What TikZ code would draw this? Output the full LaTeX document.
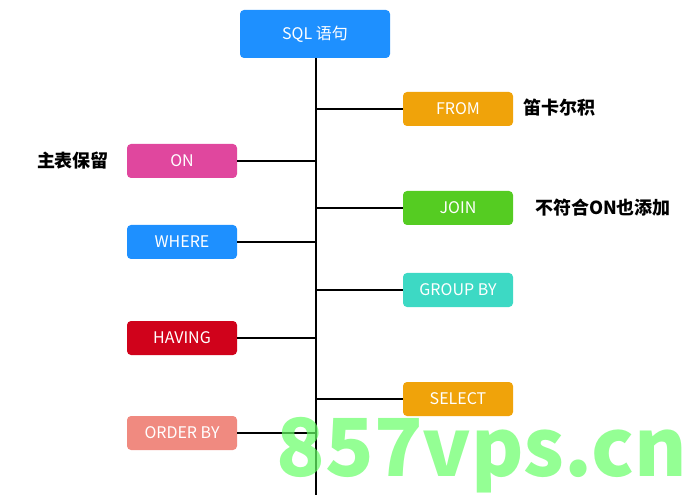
\documentclass[tikz,border=0pt]{standalone}
\usepackage{fontspec}
\setmainfont{Noto Sans CJK SC}
\begin{document}
\begin{tikzpicture}[x=1pt,y=-1pt,
  box/.style={rounded corners=4pt,minimum width=110pt,minimum height=34pt,text=white,font=\fontsize{16}{18}\selectfont,inner sep=0pt},
  lab/.style={font=\bfseries\fontsize{18}{20}\selectfont},
  ln/.style={line width=1.3pt}]
\useasboundingbox (0,0) rectangle (697,500);
\definecolor{cblue}{HTML}{1E90FF}
\definecolor{corange}{HTML}{F0A30A}
\definecolor{cpink}{HTML}{E0479E}
\definecolor{cgreen}{HTML}{55CC22}
\definecolor{cteal}{HTML}{3DD9C4}
\definecolor{cred}{HTML}{D0021B}
\definecolor{csalmon}{HTML}{F08A80}
\node[box,fill=cblue,minimum width=150pt,minimum height=48pt] (sql) at (315,34) {SQL 语句};
\coordinate (bot) at (316,495);
\draw[ln] (316,58) -- (bot);
\node[box,fill=corange] (from) at (458,109) {FROM};
\node[box,fill=cpink] (on) at (182,161) {ON};
\node[box,fill=cgreen] (join) at (458,208) {JOIN};
\node[box,fill=cblue] (where) at (182,242) {WHERE};
\node[box,fill=cteal] (group) at (458,290) {GROUP BY};
\node[box,fill=cred] (having) at (182,338) {HAVING};
\node[box,fill=corange] (select) at (458,399) {SELECT};
\node[box,fill=csalmon] (order) at (182,433) {ORDER BY};
\foreach \n in {from,join,group,select} \draw[ln] (\n.west) -- (316,0 |- \n.west);
\foreach \n in {on,where,having,order} \draw[ln] (\n.east) -- (316,0 |- \n.east);
\node[lab] (l1) at (559,108) {笛卡尔积};
\node[lab] (l2) at (73,161) {主表保留};
\node[lab] (l3) at (603,208) {不符合ON也添加};
\node[text=green!60!white,opacity=0.7,font=\bfseries\fontsize{80}{86}\selectfont] (wm) at (482,455) {857vps.cn};
\end{tikzpicture}
\end{document}
